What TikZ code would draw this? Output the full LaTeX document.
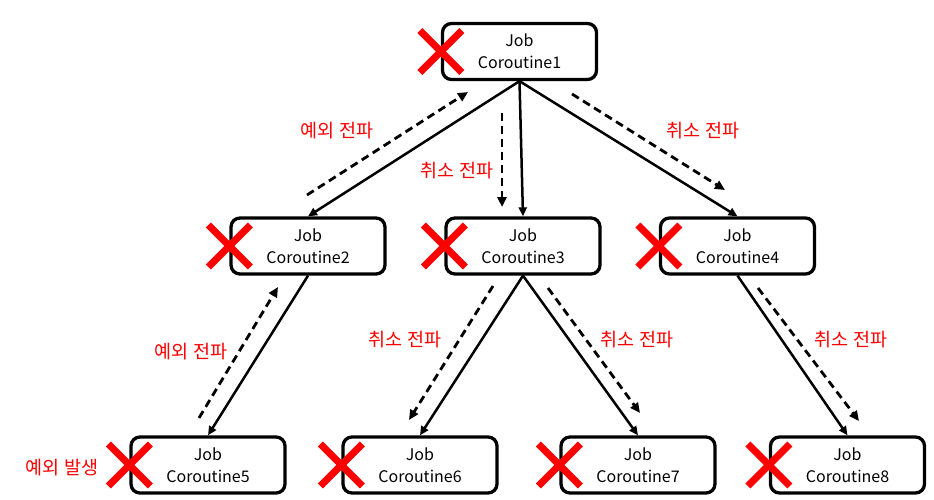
\documentclass[tikz,border=0pt]{standalone}
\usepackage{fontspec}
\setmainfont{Noto Sans CJK KR}
\usetikzlibrary{arrows.meta,shapes.misc}
\begin{document}
\begin{tikzpicture}[x=1pt,y=-1pt,
  jobbox/.style={draw=black, line width=3.3pt, rounded corners=9pt, minimum width=154pt, minimum height=56pt, align=center, font=\fontsize{16}{22}\selectfont, fill=white, inner sep=0pt},
  solidarrow/.style={line width=2.5pt, -{Triangle[length=9pt,width=8pt]}},
  dasharrow/.style={line width=2.8pt, dash pattern=on 8pt off 5pt, -{Triangle[length=10pt,width=9pt]}},
  lbl/.style={text=red, font=\fontsize{18.5}{20}\selectfont, inner sep=0pt},
  xmark/.style={cross out, draw=red, line width=7pt, minimum size=35pt, inner sep=0pt}]
\useasboundingbox (0,0) rectangle (934,500);
% boxes
\node[jobbox] (c1) at (519.5,51.5) {Job\\Coroutine1};
\node[jobbox] (c2) at (308,246) {Job\\Coroutine2};
\node[jobbox] (c3) at (523,246) {Job\\Coroutine3};
\node[jobbox] (c4) at (737.5,246) {Job\\Coroutine4};
\node[jobbox] (c5) at (208,465) {Job\\Coroutine5};
\node[jobbox] (c6) at (420,465) {Job\\Coroutine6};
\node[jobbox] (c7) at (638,465) {Job\\Coroutine7};
\node[jobbox] (c8) at (847.5,465) {Job\\Coroutine8};
% red crosses
\foreach \n in {1,...,8} {\node[xmark] (x\n) at (c\n.west) {};}
% solid arrows
\draw[solidarrow] (c1.south) -- (c2.north);
\draw[solidarrow] (c1.south) -- (c3.north);
\draw[solidarrow] (c1.south) -- (c4.north);
\draw[solidarrow] (c2.south) -- (c5.north);
\draw[solidarrow] (c3.south) -- (c6.north);
\draw[solidarrow] (c3.south) -- (c7.north);
\draw[solidarrow] (c4.south) -- (c8.north);
% dashed propagation arrows
\coordinate (d1a) at (307,195); \coordinate (d1b) at (468,92);
\coordinate (d2a) at (502,113); \coordinate (d2b) at (502,207);
\coordinate (d3a) at (572,94);  \coordinate (d3b) at (725,190);
\coordinate (d4a) at (199,418); \coordinate (d4b) at (278,287);
\coordinate (d5a) at (493,286); \coordinate (d5b) at (409,420);
\coordinate (d6a) at (548,288); \coordinate (d6b) at (640,413);
\coordinate (d7a) at (758,288); \coordinate (d7b) at (859,421);
\foreach \k in {1,...,7} {\draw[dasharrow] (d\k a) -- (d\k b);}
% labels
\node[lbl] (l1) at (337,131) {예외 전파};
\node[lbl] (l2) at (457,171) {취소 전파};
\node[lbl] (l3) at (703,131) {취소 전파};
\node[lbl] (l4) at (191,352) {예외 전파};
\node[lbl] (l5) at (405,340) {취소 전파};
\node[lbl] (l6) at (637,340) {취소 전파};
\node[lbl] (l7) at (851,340) {취소 전파};
\node[lbl] (l8) at (62,468) {예외 발생};
\end{tikzpicture}
\end{document}
